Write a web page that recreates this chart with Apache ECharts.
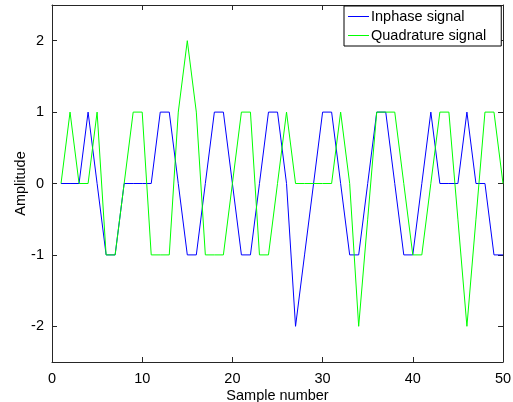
<!DOCTYPE html>
<html><head><meta charset="utf-8">
<script src="https://cdn.jsdelivr.net/npm/echarts@6/dist/echarts.min.js"></script>
<style>html,body{margin:0;padding:0;background:#fff}#c{width:513px;height:402px}</style>
</head><body><div id="c"></div>
<script>
const sampleIndex = [];
for (let i = 1; i <= 50; i++) sampleIndex.push(i);
const inphase = [0,0,0,1,0,-1,-1,0,0,0, 0,1,1,0,-1,-1,0,1,1,0, -1,-1,0,1,1,0,-2,-1,0,1, 1,0,-1,-1,0,1,1,0,-1,-1, 0,1,0,0,0,1,0,0,-1,-1];
const quadrature = [0,1,0,0,1,-1,-1,0,1,1, -1,-1,-1,1,2,1,-1,-1,-1,0, 1,1,-1,-1,0,1,0,0,0,0, 0,1,0,-2,-0.5,1,1,1,0,-1, -1,0,1,1,-0.5,-2,-0.5,1,1,0];
const yTicks = [-2,-1,0,1,2];
const seriesNames = ['Inphase signal','Quadrature signal'];

const font = 'Liberation Sans, Arial, sans-serif';
const fs = 14.5;
const chart = echarts.init(document.getElementById('c'), null, {renderer:'canvas'});
const axisCol = '#262626';
const xBase = {type:'value', min:0, max:50, interval:10,
  axisLine:{show:true,onZero:false,lineStyle:{color:axisCol,width:1}},
  axisTick:{show:true,inside:true,length:5,lineStyle:{color:axisCol}},
  splitLine:{show:false}};
const yBase = {type:'value', min:-2.5, max:2.5,
  axisLine:{show:true,onZero:false,lineStyle:{color:axisCol,width:1}},
  axisTick:{show:true,inside:true,length:5,customValues:yTicks,lineStyle:{color:axisCol}},
  splitLine:{show:false}};
chart.setOption({
  animation:false,
  backgroundColor:'#fff',
  grid:{left:52,right:10,top:5,bottom:40,containLabel:false,outerBoundsMode:'none'},
  xAxis:[
    Object.assign({}, xBase, {position:'bottom', name:'Sample number', nameLocation:'middle', nameGap:26,
      nameMoveOverlap:false,
      nameTextStyle:{color:'#000',fontFamily:font,fontSize:fs},
      axisLabel:{color:'#000',fontFamily:font,fontSize:fs,margin:9}}),
    Object.assign({}, xBase, {position:'top', axisLabel:{show:false}})
  ],
  yAxis:[
    Object.assign({}, yBase, {position:'left', name:'Amplitude', nameLocation:'middle', nameGap:24,
      nameMoveOverlap:false,
      nameTextStyle:{color:'#000',fontFamily:font,fontSize:fs},
      axisLabel:{color:'#000',fontFamily:font,fontSize:fs,margin:8,customValues:yTicks}}),
    Object.assign({}, yBase, {position:'right', axisLabel:{show:false}})
  ],
  legend:{orient:'vertical', left:344, top:6,
    data:seriesNames,
    icon:'rect',
    itemWidth:21, itemHeight:1, itemGap:4,
    padding:[3,15,3,4],
    borderColor:'#000', borderWidth:1, backgroundColor:'#fff',
    textStyle:{color:'#000',fontFamily:font,fontSize:fs,padding:[0,0,0,-3]}},
  series:[
    {name:seriesNames[0], type:'line', symbol:'none', data:sampleIndex.map((x,i)=>[x,inphase[i]]),
      lineStyle:{color:'#0000ff',width:1}, itemStyle:{color:'#0000ff'}},
    {name:seriesNames[1], type:'line', symbol:'none', data:sampleIndex.map((x,i)=>[x,quadrature[i]]),
      lineStyle:{color:'#00ff00',width:1}, itemStyle:{color:'#00ff00'}}
  ]
});
</script></body></html>
